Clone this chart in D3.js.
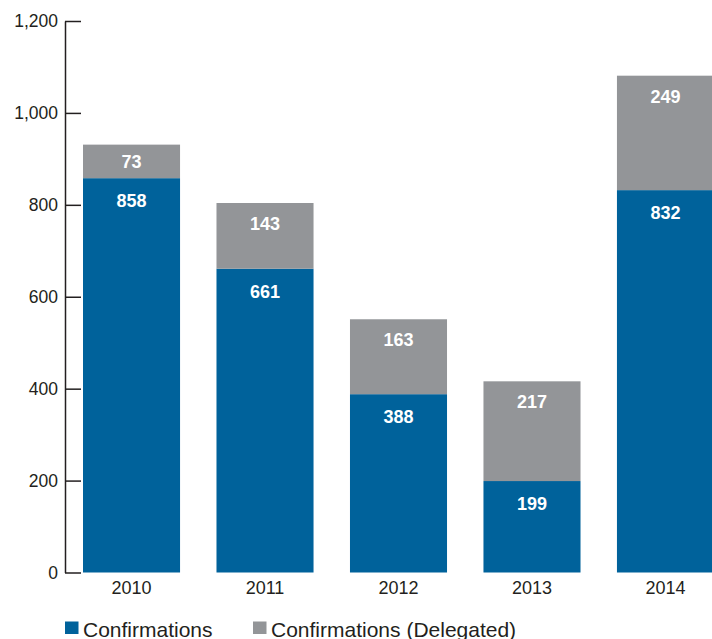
<!DOCTYPE html>
<html>
<head>
<meta charset="utf-8">
<script src="https://cdn.jsdelivr.net/npm/d3@7"></script>
<style>
  html, body { margin: 0; padding: 0; background: #fff; }
  svg { display: block; font-family: "Liberation Sans", Arial, sans-serif; }
</style>
</head>
<body>
<svg id="chart" width="712" height="639"></svg>
<script>
// Yearly confirmations, split into direct and delegated
const years = ["2010", "2011", "2012", "2013", "2014"];
const confirmations = [858, 661, 388, 199, 832];
const delegated = [73, 143, 163, 217, 249];
const yTicks = [0, 200, 400, 600, 800, 1000, 1200];
const seriesNames = ["Confirmations", "Confirmations (Delegated)"];
const seriesColors = ["#00629b", "#939598"];

const svg = d3.select("#chart");

const x = d3.scaleBand()
  .domain(years)
  .range([83, 714])
  .paddingInner(0.273)
  .paddingOuter(0);

const y = d3.scaleLinear()
  .domain([0, 1200])
  .range([572.5, 21]);

// Stack the two series per year
const rows = years.map((yr, i) => ({ year: yr, c: confirmations[i], d: delegated[i] }));
const stack = d3.stack().keys(["c", "d"])(rows);
const labelOffset = { c: 29, d: 27 };

const layers = svg.append("g").selectAll("g")
  .data(stack)
  .join("g")
  .attr("fill", (s, i) => seriesColors[i]);

layers.selectAll("rect")
  .data(s => s)
  .join("rect")
  .attr("x", d => x(d.data.year))
  .attr("width", x.bandwidth())
  .attr("y", d => y(d[1]))
  .attr("height", d => y(d[0]) - y(d[1]));

// Value labels near the top of each segment
layers.selectAll("text")
  .data((s) => s.map(d => ({ d, key: s.key })))
  .join("text")
  .attr("x", o => x(o.d.data.year) + x.bandwidth() / 2)
  .attr("y", o => Math.min(y(o.d[1]) + labelOffset[o.key], (y(o.d[0]) + y(o.d[1])) / 2 + 7))
  .attr("text-anchor", "middle")
  .attr("fill", "#fff")
  .attr("font-weight", "bold")
  .attr("font-size", 18)
  .text(o => o.d.data[o.key]);

// Y axis with ticks pointing into the plot
const yAxis = d3.axisLeft(y)
  .tickValues(yTicks)
  .tickFormat(d3.format(","))
  .tickSizeInner(-16)
  .tickSizeOuter(0)
  .tickPadding(7);

const gy = svg.append("g")
  .attr("transform", "translate(65,0)")
  .call(yAxis);
gy.select(".domain").attr("stroke", "#231f20").attr("stroke-width", 1.5);
gy.selectAll(".tick line").attr("stroke", "#231f20").attr("stroke-width", 1.5);
gy.selectAll(".tick text")
  .attr("font-size", 17.5)
  .attr("fill", "#231f20")
  .attr("font-family", "Liberation Sans, Arial, sans-serif");

// Category labels under the bars (no baseline)
const xAxis = d3.axisBottom(x).tickSize(0).tickPadding(9);
const gx = svg.append("g")
  .attr("transform", "translate(0,572.5)")
  .call(xAxis);
gx.select(".domain").remove();
gx.selectAll(".tick text")
  .attr("font-size", 18)
  .attr("fill", "#231f20")
  .attr("font-family", "Liberation Sans, Arial, sans-serif");

// Legend
const legendX = [65, 253];
const legend = svg.append("g").selectAll("g")
  .data(seriesNames)
  .join("g")
  .attr("transform", (d, i) => `translate(${legendX[i]},621.5)`);
legend.append("rect")
  .attr("width", 13.5)
  .attr("height", 12.5)
  .attr("fill", (d, i) => seriesColors[i]);
legend.append("text")
  .attr("x", 18)
  .attr("y", 15)
  .attr("font-size", 21)
  .attr("fill", "#231f20")
  .text(d => d);
</script>
</body>
</html>
